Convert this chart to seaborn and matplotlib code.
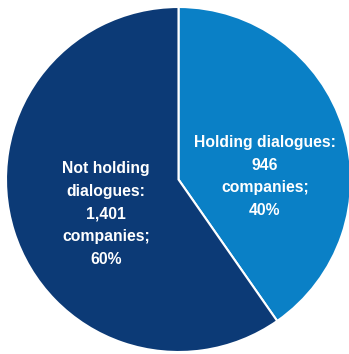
import matplotlib
matplotlib.use("Agg")
import matplotlib.pyplot as plt
import seaborn as sns

# data
categories = ["Holding dialogues", "Not holding dialogues"]
label_names = ["Holding dialogues:", "Not holding\ndialogues:"]
companies = [946, 1401]
colors = ["#0a80c6", "#0c3a76"]

sns.set_theme(style="white")
plt.rcParams['font.family'] = ['Liberation Sans', 'DejaVu Sans']

fig = plt.figure(figsize=(3.49, 3.54), dpi=100)
ax = fig.add_axes([6 / 349, 2 / 354, 345 / 349, 345 / 354])

total = sum(companies)
wedges, _ = ax.pie(companies, colors=colors, startangle=90, counterclock=False,
                   wedgeprops=dict(edgecolor="white", linewidth=1.5))

# label positions (in pie units)
label_pos = [(0.50, 0.017), (-0.42, -0.20)]
for name, n, (x, y) in zip(label_names, companies, label_pos):
    pct = round(100 * n / total)
    ax.text(x, y, f"{name}\n{n:,}\ncompanies;\n{pct}%", ha="center", va="center",
            color="white", fontsize=11.3, fontweight="bold", linespacing=1.63)

ax.set_xlim(-1.0, 1.0)
ax.set_ylim(-1.0, 1.0)
ax.set_aspect("equal")
ax.axis("off")

fig.savefig("out.png", dpi=100, facecolor="white")
